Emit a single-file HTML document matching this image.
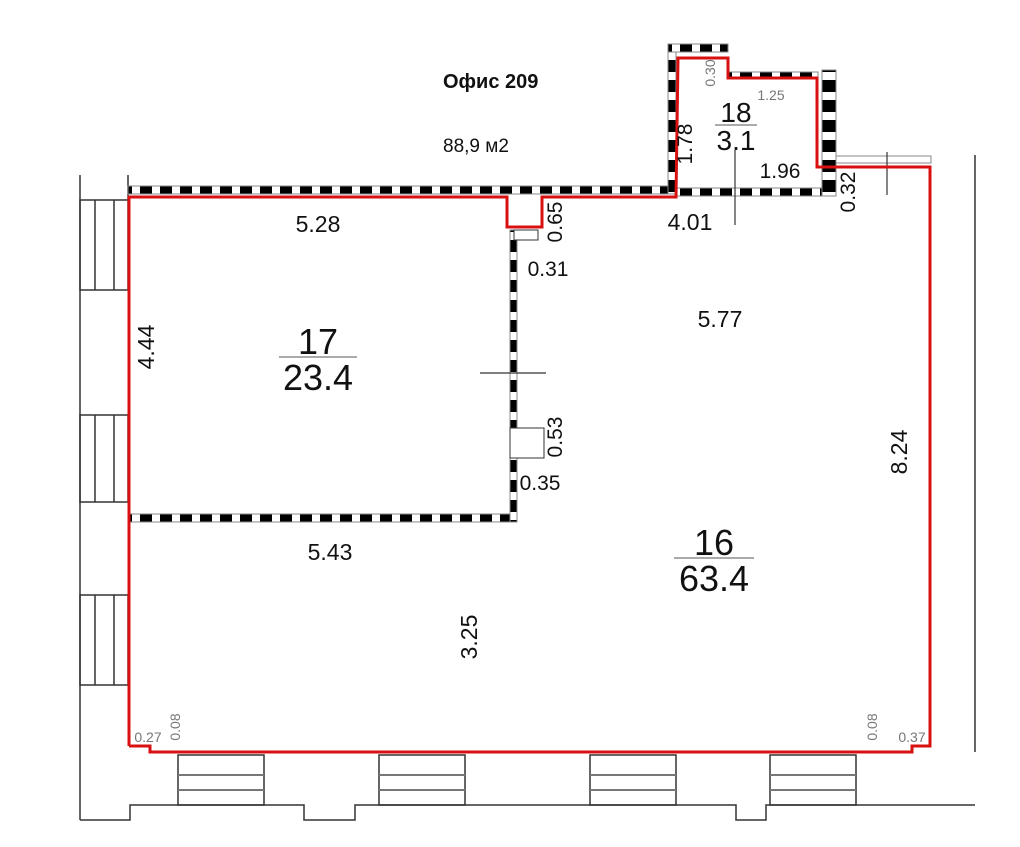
<!DOCTYPE html>
<html><head><meta charset="utf-8"><style>
html,body{margin:0;padding:0;background:#fff;width:1020px;height:847px;overflow:hidden}
svg{display:block}
text{font-family:"Liberation Sans",sans-serif;fill:#111}
</style></head><body>
<svg width="1020" height="847" viewBox="0 0 1020 847">
<defs>
<pattern id="dash" width="20" height="20" patternUnits="userSpaceOnUse">
<rect width="20" height="20" fill="#fff"/><rect width="12" height="20" fill="#000"/>
</pattern>
<pattern id="dashv" width="20" height="20" patternUnits="userSpaceOnUse">
<rect width="20" height="20" fill="#fff"/><rect width="20" height="12" fill="#000"/>
</pattern>
</defs>
<g stroke="#333" stroke-width="1.5" fill="none">
<line x1="80" y1="175" x2="80" y2="820"/>
<line x1="128" y1="175" x2="128" y2="200"/>
<rect x="80" y="200" width="48" height="90"/>
<line x1="95" y1="200" x2="95" y2="290"/><line x1="114" y1="200" x2="114" y2="290"/>
<rect x="80" y="415" width="48" height="87"/>
<line x1="95" y1="415" x2="95" y2="502"/><line x1="114" y1="415" x2="114" y2="502"/>
<rect x="80" y="595" width="48" height="90"/>
<line x1="95" y1="595" x2="95" y2="685"/><line x1="114" y1="595" x2="114" y2="685"/>
<line x1="975" y1="155" x2="975" y2="752"/>
<polyline points="80,820 130,820 130,805 304,805 304,820 355,820 355,805 736,805 736,820 766,820 766,805 975,805"/>
<rect x="178" y="755" width="86" height="50"/>
<rect x="379" y="755" width="86" height="50"/>
<rect x="590" y="755" width="86" height="50"/>
<rect x="770" y="755" width="86" height="50"/>
</g>
<g stroke="#777" stroke-width="2">
<line x1="178" y1="775" x2="264" y2="775"/><line x1="178" y1="790" x2="264" y2="790"/>
<line x1="379" y1="775" x2="465" y2="775"/><line x1="379" y1="790" x2="465" y2="790"/>
<line x1="590" y1="775" x2="676" y2="775"/><line x1="590" y1="790" x2="676" y2="790"/>
<line x1="770" y1="775" x2="856" y2="775"/><line x1="770" y1="790" x2="856" y2="790"/>
</g>
<g stroke="#888" stroke-width="1">
<rect x="128" y="186" width="544" height="8" fill="url(#dash)"/>
<rect x="130" y="514" width="386" height="8" fill="url(#dash)"/>
<rect x="510" y="230" width="7" height="292" fill="url(#dashv)"/>
<rect x="668" y="44" width="8" height="150" fill="url(#dashv)"/>
<rect x="668" y="44" width="60" height="8" fill="url(#dash)"/>
<rect x="728" y="72" width="90" height="7" fill="url(#dash)"/>
<rect x="676" y="188" width="155" height="8" fill="url(#dash)"/>
<rect x="822" y="70" width="14" height="126" fill="url(#dashv)"/>
<rect x="836" y="156" width="95" height="7" fill="#fff"/>
</g>
<rect x="510" y="428" width="34" height="30" fill="#fff" stroke="#333"/>
<rect x="514" y="230" width="24" height="10" fill="#fff" stroke="#333"/>
<g stroke="#333" stroke-width="1.2">
<line x1="480" y1="373" x2="546" y2="373"/>
<line x1="735" y1="150" x2="735" y2="225"/>
<line x1="887" y1="152" x2="887" y2="195"/>
</g>
<polyline fill="none" stroke="#d91010" stroke-width="3" points="129,746 129,197 507,197 507,227 542,227 542,197 676,197 678,58 728,58 728,78 817,78 817,167 930,167 930,746 912,746 912,752 150,752 150,746 129,746"/>
<text x="443" y="88" font-size="20" font-weight="bold">Офис 209</text>
<text x="443" y="152" font-size="19">88,9 м2</text>
<g text-anchor="middle">
<text x="318" y="354" font-size="36">17</text>
<line x1="279" y1="357" x2="357" y2="357" stroke="#555"/>
<text x="318" y="390" font-size="36">23.4</text>
<text x="714" y="555" font-size="36">16</text>
<line x1="674" y1="558" x2="754" y2="558" stroke="#555"/>
<text x="714" y="591" font-size="36">63.4</text>
<text x="736" y="122" font-size="28">18</text>
<line x1="715" y1="125" x2="757" y2="125" stroke="#555"/>
<text x="736" y="150" font-size="28">3.1</text>
</g>
<g font-size="23" text-anchor="middle">
<text x="318" y="232">5.28</text>
<text x="330" y="560">5.43</text>
<text x="720" y="327">5.77</text>
<text x="690" y="230">4.01</text>
<text x="548" y="276" font-size="21">0.31</text>
<text x="540" y="490" font-size="21">0.35</text>
<text x="780" y="178" font-size="21">1.96</text>
<text x="162" y="355" transform="rotate(-90 154 355)">4.44</text>
<text x="485" y="645" transform="rotate(-90 477 645)">3.25</text>
<text x="915" y="460" transform="rotate(-90 907 460)">8.24</text>
<text x="570" y="230" font-size="21" transform="rotate(-90 562 230)">0.65</text>
<text x="570" y="445" font-size="21" transform="rotate(-90 562 445)">0.53</text>
<text x="700" y="152" font-size="21" transform="rotate(-90 692 152)">1.78</text>
<text x="863" y="200" font-size="21" transform="rotate(-90 855 200)">0.32</text>
</g>
<g font-size="14" text-anchor="middle">
<text x="771" y="100" style="fill:#777">1.25</text>
<text x="720" y="78" transform="rotate(-90 715 78)" style="fill:#777">0.30</text>
<text x="148" y="742" style="fill:#777">0.27</text>
<text x="185" y="732" transform="rotate(-90 180 732)" style="fill:#777">0.08</text>
<text x="882" y="732" transform="rotate(-90 877 732)" style="fill:#777">0.08</text>
<text x="912" y="742" style="fill:#777">0.37</text>
</g>
</svg>
</body></html>
